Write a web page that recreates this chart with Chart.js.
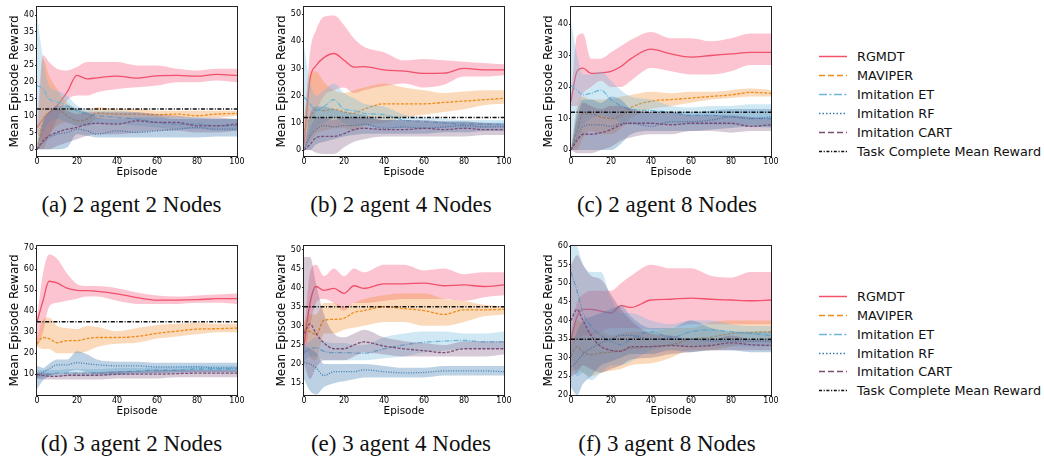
<!DOCTYPE html>
<html>
<head>
<meta charset="utf-8">
<script src="https://cdn.jsdelivr.net/npm/chart.js@4.4.1/dist/chart.umd.min.js"></script>
<style>
  html, body { margin: 0; padding: 0; background: #fff; }
  body { width: 1044px; height: 457px; position: relative; overflow: hidden; font-family: "DejaVu Sans", sans-serif; }
  canvas { position: absolute; }
  .caption { position: absolute; width: 300px; text-align: center; font-family: "Liberation Serif", "Times New Roman", serif; font-size: 23px; line-height: 23px; color: #111; white-space: nowrap; }
  .legend-item { position: absolute; height: 19px; line-height: 19px; font-size: 12.8px; color: #111; white-space: nowrap; }
  .legend-item svg { position: absolute; left: 0; top: 0; }
  .legend-item span { position: absolute; left: 38px; top: 0; }
</style>
</head>
<body>
<script>
/* global Chart */

// ---- data ----
const EPISODES = [0, 3, 6, 10, 15, 20, 25, 30, 40, 50, 60, 70, 80, 90, 100];
const X_TICKS = [0, 20, 40, 60, 80, 100];
const METHODS = ["RGMDT", "MAVIPER", "Imitation ET", "Imitation RF", "Imitation CART"];
const TARGET_LABEL = "Task Complete Mean Reward";
const CAPTIONS = ["(a) 2 agent 2 Nodes", "(b) 2 agent 4 Nodes", "(c) 2 agent 8 Nodes",
                  "(d) 3 agent 2 Nodes", "(e) 3 agent 4 Nodes", "(f) 3 agent 8 Nodes"];
const TARGETS = [12, 12, 12, 35, 35, 35];

const yTicksA = [0, 5, 10, 15, 20, 25, 30, 35, 40];
const yTicksB = [0, 10, 20, 30, 40, 50];
const yTicksC = [0, 10, 20, 30, 40];
const yTicksD = [10, 20, 30, 40, 50, 60, 70];
const yTicksE = [15, 20, 25, 30, 35, 40, 45, 50];
const yTicksF = [20, 25, 30, 35, 40, 45, 50, 55, 60];
const Y_LIMITS = [[-2, 42.4], [-2.2, 52.6], [-1.9, 45.4], [0.1, 71.1], [11.9, 50.9], [20, 60]];

// (a) 2 agent 2 nodes
const aRgmdt   = [6.5, 9, 11, 13, 17, 22, 21, 21.3, 21.8, 21.2, 21.9, 22, 21.8, 22.3, 22];
const aRgmdtLo = [5, 2, 4, 9, 14.5, 16, 16, 17, 18, 18.5, 19, 20, 20, 20.5, 20];
const aRgmdtHi = [8, 28, 26, 24, 23.5, 24.5, 26, 26, 26, 25, 25, 24, 23.5, 24, 24];
const aMav     = [0, 9, 11, 12, 10, 8.5, 9, 10.8, 10.5, 10.5, 10.3, 10.5, 10, 10.5, 10.7];
const aMavLo   = [0, 0, 4, 7, 8, 7, 7, 9, 9, 9.5, 9.5, 9.5, 9.5, 9.5, 10];
const aMavHi   = [0, 27, 22, 18, 14, 12, 11.5, 12.5, 12, 12, 11.5, 11.5, 11.5, 11.5, 11.5];
const aEt      = [19, 18, 15, 14.2, 13, 11.5, 10.5, 10, 9.5, 9, 8, 7.5, 7.5, 7, 7];
const aEtLo    = [0, 5, 8, 9, 8, 7, 7, 7.5, 7.5, 7, 6.5, 6, 6, 5.5, 5.5];
const aEtHi    = [40, 27, 19, 17.5, 16, 13, 12, 11.5, 11.5, 11, 10, 9.5, 9.5, 9, 9];
const aRf      = [0, 2, 3.5, 4.5, 5, 6, 5.5, 4.5, 5.5, 5, 5.5, 6, 6.5, 6, 6];
const aRfLo    = [0, 0, 0, 0, 0.5, 4.5, 4, 3.5, 3.5, 3.5, 3.5, 3.5, 3.5, 3.8, 3.8];
const aRfHi    = [0, 8, 11, 13, 13, 12, 11, 9.5, 9, 9.5, 9.5, 9, 9, 9, 9];
const aCart    = [0, 2.5, 4, 5, 6, 6.5, 7.5, 7.7, 7.5, 8.5, 8, 8, 7, 7, 7.5];
const aCartLo  = [0, 0, 0, 1, 2, 3, 4, 4.5, 4.5, 5, 5.5, 5.5, 5, 5, 5.5];
const aCartHi  = [0, 8, 11, 12, 11.5, 10.5, 11, 11, 11, 11, 10.5, 10, 9.5, 9.5, 9];

// (b) 2 agent 4 nodes
const bRgmdt   = [2, 26, 31, 34, 35.5, 33, 30.5, 30.7, 29.5, 29, 28.2, 28.3, 30, 29.5, 29.5];
const bRgmdtLo = [0, 8, 14, 20, 22, 23, 21, 22, 23.5, 24.5, 23, 24, 27, 27, 27.5];
const bRgmdtHi = [8, 36, 44, 49, 49.5, 46, 41, 38, 36, 33, 33.5, 33, 32.5, 32, 31.5];
const bMav     = [7, 12, 15, 14.5, 15, 14, 13.5, 15, 17, 17, 17, 17.5, 18, 18.5, 19];
const bMavLo   = [0, 3, 6, 7, 8, 8, 7, 9, 10, 12, 13, 14, 15, 16.5, 17];
const bMavHi   = [12, 28, 29, 25, 22, 21, 22, 23, 24.5, 23, 22, 21, 21.5, 22, 22];
const bEt      = [19.5, 17, 14.5, 16, 18.5, 15, 14.5, 13.5, 13, 11, 10.5, 10, 9.5, 9.5, 9.5];
const bEtLo    = [0, 5, 8, 10, 12, 10, 9, 9, 8, 8, 8, 8, 8, 8, 8.5];
const bEtHi    = [38, 25, 20, 22, 24.5, 21, 19, 17, 16, 13, 12, 11.5, 11, 11, 11];
const bRf      = [0, 5, 7.5, 9, 8.5, 9, 9, 9.5, 8, 8.5, 8, 8.5, 9, 8.5, 8.5];
const bRfLo    = [0, 0, 2, 3, 4, 5, 5.5, 6, 6, 6, 6, 6.5, 6.5, 7, 7];
const bRfHi    = [0, 13, 16, 16, 15, 14, 13.5, 13, 11, 11, 10.5, 10.5, 10.5, 10, 10];
const bCart    = [0, 2, 4.5, 5, 5, 6, 7.5, 8, 7.5, 7.5, 8, 7.5, 8, 7.5, 7.5];
const bCartLo  = [0, 0, -1, -1.5, -1.5, 1, 3, 4, 5, 5, 5, 5, 5, 5.5, 5.5];
const bCartHi  = [0, 8, 12, 12, 11, 12, 12, 12, 11, 11, 11, 10.5, 10.5, 10, 9.5];

// (c) 2 agent 8 nodes
const cRgmdt   = [15.5, 25, 26, 24.3, 24.5, 25, 26.5, 29, 32, 30.5, 29.5, 30, 30.5, 31, 31];
const cRgmdtLo = [14, 14, 18, 20, 22, 20, 20, 22, 26, 25, 24, 24, 25, 27, 27];
const cRgmdtHi = [17, 36, 37, 29, 29, 31, 33, 35, 37.5, 35.5, 35.5, 34.5, 35.5, 37, 37];
const cMav     = [0, 6, 11.5, 11.5, 10.5, 10, 11, 13.5, 15.5, 16, 16.5, 17, 17.5, 18.3, 18];
const cMavLo   = [0, 0, 4, 6, 5, 5, 7, 10, 13, 14, 15, 16, 16.5, 17, 17];
const cMavHi   = [0, 14, 17, 16, 16, 16, 17, 17.5, 18.5, 18, 18.5, 18.5, 19, 19.5, 19];
const cEt      = [20.5, 19, 17.5, 18, 19, 16, 14, 13, 12.5, 12, 11, 11, 10.5, 10, 10];
const cEtLo    = [0, 5, 8, 10, 11, 10, 9, 8, 8, 8, 8, 8, 8, 7.5, 7];
const cEtHi    = [41, 30, 24, 24, 25, 22, 19, 17, 16, 14, 13.5, 14, 14, 14.5, 14.5];
const cRf      = [0, 4, 7.5, 8, 8, 7.5, 8.5, 8.5, 7.5, 9, 9, 9.5, 10.5, 10, 10.5];
const cRfLo    = [0, 0, 0, 0, 0, 0, 2, 5, 6, 6, 6, 6.5, 7, 7.5, 7.5];
const cRfHi    = [0, 12, 16, 16, 15, 17, 16, 13, 12, 12, 12, 12.5, 13, 13, 13];
const cCart    = [0, 3, 5, 5, 5.5, 6.5, 8, 8.5, 8.5, 8, 8.5, 8.5, 8.5, 7.5, 8];
const cCartLo  = [0, -1, -1, -1, 0, 1, 3, 4, 5, 5, 6, 6, 5.5, 6, 6];
const cCartHi  = [0, 10, 15, 14, 13, 14, 14, 13, 12, 12, 11, 11, 11, 10.5, 10];

// (d) 3 agent 2 nodes
const dRgmdt   = [35, 45, 54.3, 53.5, 51, 50, 49.8, 49.5, 48.3, 46.5, 45.3, 45.3, 45.5, 46, 46];
const dRgmdtLo = [23, 30, 42, 44, 45, 46, 47, 47, 45, 43.5, 43.5, 43.5, 44, 44, 43.5];
const dRgmdtHi = [37, 58, 67, 65, 58, 53, 52, 52, 51, 49, 47.5, 47, 47.5, 48, 48.5];
const dMav     = [24.5, 27.5, 27, 25, 26, 26, 27, 27.5, 27.5, 28, 29.5, 30.5, 31.5, 31.7, 32];
const dMavLo   = [23, 22, 22, 20, 20, 20, 21, 23, 24.5, 25, 27, 28, 29, 30, 30];
const dMavHi   = [27, 36, 37, 33, 32, 31.5, 33, 32.5, 30.5, 32, 33.5, 34, 34.5, 34, 34];
const dEt      = [9.5, 10, 10, 10.5, 10.5, 10.5, 10.5, 10.5, 11, 11.5, 12, 12, 12.5, 12.5, 12.5];
const dEtLo    = [8, 8.5, 9, 9, 9, 9, 9, 9, 9.5, 10, 10.5, 10.5, 11, 11, 11];
const dEtHi    = [12, 12, 12, 12, 12.5, 12.5, 12.5, 12.5, 13, 13, 13.5, 13.5, 14, 14, 14];
const dRf      = [9, 11, 12.5, 14.5, 14.5, 15.5, 15, 14.5, 14, 14, 13.5, 13.5, 13.5, 13, 13];
const dRfLo    = [3, 7, 9, 10.5, 11, 12, 11, 10, 10, 10.5, 10.5, 11, 11, 11, 11];
const dRfHi    = [14, 13, 15, 17, 17, 21, 19.5, 17, 16, 16, 15.5, 15.5, 15.5, 15.5, 15.5];
const dCart    = [10, 9.5, 9, 9, 9.5, 9.5, 9.5, 9.5, 10, 10, 10, 10.3, 10.5, 10.5, 10.5];
const dCartLo  = [8, 7.5, 7.5, 7.5, 7.5, 7.5, 7.5, 7.5, 8, 8, 8, 8.5, 8.5, 8.5, 8.5];
const dCartHi  = [11, 11, 10.5, 10.5, 11, 11, 11, 11, 11.5, 11.5, 12, 12, 12, 12, 12];

// (e) 3 agent 4 nodes
const eRgmdt   = [25, 36, 40.3, 39.3, 39.8, 38.5, 40.5, 39.8, 41, 41, 41.2, 40.5, 40.7, 40.3, 40.7];
const eRgmdtLo = [22, 30, 36, 37, 36, 34, 36, 36, 36.5, 37, 37, 37, 36.5, 37.5, 38];
const eRgmdtHi = [28, 44, 46, 43, 45, 43, 45, 44, 46, 46, 44.5, 45, 43.5, 44, 44];
const eMav     = [29, 28.5, 27.7, 31.5, 31.7, 32, 33.5, 34, 35, 34.5, 34, 33, 34.2, 34.2, 34.3];
const eMavLo   = [27, 22, 21, 28, 28, 29, 29.5, 30, 31, 31, 30, 30, 31, 32.5, 33];
const eMavHi   = [31, 33, 33, 36, 36, 35, 36, 37, 38, 38.5, 38.5, 37, 36.5, 35.5, 35];
const eEt      = [23, 24, 24.3, 23.3, 23, 23, 22.9, 22.8, 24, 25, 25.7, 26, 26.2, 25.8, 25.8];
const eEtLo    = [21, 22, 22, 21, 21, 21, 21, 21, 21.5, 22, 23, 23.5, 24, 24, 24];
const eEtHi    = [25, 26, 27, 26, 25.5, 25.5, 25, 25, 27, 28, 28.5, 28.5, 28, 28, 28.5];
const eRf      = [20.5, 20, 19, 17, 18, 18, 18, 18.5, 18, 17.7, 17.8, 18.2, 18.2, 18.2, 18];
const eRfLo    = [16, 13, 12, 14, 15, 15.5, 16, 16.5, 16.5, 16.5, 16.5, 17, 17, 17, 17];
const eRfHi    = [25, 24, 23, 20, 20, 20, 20, 20, 19.5, 19, 19, 19.5, 19.5, 19.5, 19.5];
const eCart    = [28, 30.5, 28, 25.5, 24, 24, 25, 25.8, 24.7, 24, 23.5, 23, 24, 24, 24];
const eCartLo  = [20, 16, 19, 21, 21, 21, 22, 23, 22.5, 22, 22, 22, 22, 22, 22.5];
const eCartHi  = [48, 48, 41, 33, 28, 27, 28, 29, 27, 26, 25.5, 25, 26, 26, 26];

// (f) 3 agent 8 nodes
const fRgmdt   = [35, 41, 43, 43, 42.5, 42, 44, 43.5, 45.5, 45.7, 46, 45.7, 45.5, 45.3, 45.5];
const fRgmdtLo = [33, 35, 36, 36, 37, 38, 38, 38, 37.5, 38, 39, 39, 39, 39, 39];
const fRgmdtHi = [37, 45, 47, 48, 48, 48, 50, 52, 55, 54, 54, 52, 51.5, 53, 53];
const fMav     = [30.5, 33, 31.5, 30.8, 31.3, 31.5, 32, 32.5, 33, 33.5, 35, 35.5, 36.5, 36.8, 37];
const fMavLo   = [26, 27, 26, 25, 26, 26.5, 27, 28, 28.5, 30, 32, 32, 33, 34, 34];
const fMavHi   = [35, 40, 39, 37, 37, 36, 36.5, 37, 37, 38, 38, 39.5, 40, 40, 40];
const fEt      = [53, 48, 42, 38.5, 36, 34.5, 33.5, 35, 37, 35.5, 37, 37.5, 37, 36.5, 36];
const fEtLo    = [30, 25, 26, 24, 26, 28, 28, 29, 32, 33, 33, 33, 33, 33, 33];
const fEtHi    = [62, 60, 55, 53, 53, 46, 42, 42, 40, 39, 40, 40, 39, 38.5, 38.5];
const fRf      = [27.5, 29, 31, 32.5, 34, 35, 36, 36, 35, 35, 35, 34.5, 34.5, 34.5, 34.5];
const fRfLo    = [22, 20, 23, 25, 28, 29, 30, 31, 31, 32, 31.5, 32, 32, 31.5, 31.5];
const fRfHi    = [33, 37, 40, 41, 42, 43, 44, 41, 38, 38, 40, 38, 37, 37, 37];
const fCart    = [40, 43, 40, 36, 33, 32, 31.7, 33, 33, 33.3, 33, 33.3, 34, 33.5, 33.3];
const fCartLo  = [25, 26, 28, 27, 26, 27, 28, 29.5, 30, 31, 31.5, 32, 32, 32, 32];
const fCartHi  = [55, 57.5, 55, 52, 51, 47, 43, 40, 36.5, 36, 35, 35, 36, 35, 35];

// ---- styles ----
const LINE_COLORS = ["#f2506b", "#ee8c1c", "#6cb7d9", "#3a7db3", "#7b4c78"];
const BAND_COLORS = ["rgba(245,60,100,0.3)", "rgba(240,140,40,0.32)", "rgba(110,185,220,0.32)",
                     "rgba(70,130,180,0.36)", "rgba(120,80,120,0.3)"];
const LINE_DASHES = [[], [3, 1.5], [5, 1.5, 1, 1.5], [1, 1.5], [3, 1.5]];
const LEGEND_DASHES = ["", "6 3", "8 2.5 2 2.5", "1.5 2", "6 3"];

const PANELS = [
  { mean: [aRgmdt, aMav, aEt, aRf, aCart], lo: [aRgmdtLo, aMavLo, aEtLo, aRfLo, aCartLo], hi: [aRgmdtHi, aMavHi, aEtHi, aRfHi, aCartHi], yTicks: yTicksA },
  { mean: [bRgmdt, bMav, bEt, bRf, bCart], lo: [bRgmdtLo, bMavLo, bEtLo, bRfLo, bCartLo], hi: [bRgmdtHi, bMavHi, bEtHi, bRfHi, bCartHi], yTicks: yTicksB },
  { mean: [cRgmdt, cMav, cEt, cRf, cCart], lo: [cRgmdtLo, cMavLo, cEtLo, cRfLo, cCartLo], hi: [cRgmdtHi, cMavHi, cEtHi, cRfHi, cCartHi], yTicks: yTicksC },
  { mean: [dRgmdt, dMav, dEt, dRf, dCart], lo: [dRgmdtLo, dMavLo, dEtLo, dRfLo, dCartLo], hi: [dRgmdtHi, dMavHi, dEtHi, dRfHi, dCartHi], yTicks: yTicksD },
  { mean: [eRgmdt, eMav, eEt, eRf, eCart], lo: [eRgmdtLo, eMavLo, eEtLo, eRfLo, eCartLo], hi: [eRgmdtHi, eMavHi, eEtHi, eRfHi, eCartHi], yTicks: yTicksE },
  { mean: [fRgmdt, fMav, fEt, fRf, fCart], lo: [fRgmdtLo, fMavLo, fEtLo, fRfLo, fCartLo], hi: [fRgmdtHi, fMavHi, fEtHi, fRfHi, fCartHi], yTicks: yTicksF }
];

// ---- layout ----
const PLOT_LEFT = [37, 304, 571];
const PLOT_TOP = [7, 246];
const PLOT_W = 200;
const PLOT_H = 149;
const Y_AXIS_W = 28;
const X_AXIS_H = 21;
const PAD_TOP = 6;
const PAD_RIGHT = 12;
const CAPTION_X = [131.5, 401, 667];
const CAPTION_TOP = [193, 432];
const LEGEND_LEFT = 819;
const LEGEND_FIRST = [56.7, 296.5];
const LEGEND_STEP = 18.86;

const framePlugin = {
  id: "frame",
  afterDraw(chart) {
    const { ctx, chartArea: a } = chart;
    ctx.save();
    ctx.strokeStyle = "#222";
    ctx.lineWidth = 1;
    ctx.strokeRect(a.left - 0.5, a.top - 0.5, a.right - a.left + 1, a.bottom - a.top + 1);
    ctx.restore();
  }
};

function pts(arr) {
  return EPISODES.map((x, i) => ({ x, y: arr[i] }));
}

function buildPanel(idx) {
  const p = PANELS[idx];
  const col = idx % 3;
  const row = Math.floor(idx / 3);
  const canvas = document.createElement("canvas");
  const w = Y_AXIS_W + PLOT_W + PAD_RIGHT;
  const h = PAD_TOP + PLOT_H + X_AXIS_H;
  canvas.width = w;
  canvas.height = h;
  canvas.style.width = w + "px";
  canvas.style.height = h + "px";
  canvas.style.left = (PLOT_LEFT[col] - Y_AXIS_W) + "px";
  canvas.style.top = (PLOT_TOP[row] - PAD_TOP) + "px";
  document.body.appendChild(canvas);

  // first dataset is drawn last, so the target line goes first and RGMDT last
  const datasets = [{
    label: TARGET_LABEL,
    data: [{ x: 0, y: TARGETS[idx] }, { x: 100, y: TARGETS[idx] }],
    borderColor: "#111",
    borderWidth: 1.5,
    borderDash: [4, 1.6, 1, 1.6],
    pointRadius: 0,
    fill: false
  }];
  for (let m = METHODS.length - 1; m >= 0; m--) {
    datasets.push({
      label: METHODS[m],
      data: pts(p.mean[m]),
      borderColor: LINE_COLORS[m],
      borderWidth: 1.3,
      borderDash: LINE_DASHES[m],
      pointRadius: 0,
      fill: false,
      cubicInterpolationMode: "monotone"
    });
    datasets.push({
      label: METHODS[m] + " upper",
      data: pts(p.hi[m]),
      borderColor: "rgba(0,0,0,0)",
      borderWidth: 0,
      backgroundColor: BAND_COLORS[m],
      pointRadius: 0,
      fill: "+1",
      cubicInterpolationMode: "monotone"
    });
    datasets.push({
      label: METHODS[m] + " lower",
      data: pts(p.lo[m]),
      borderColor: "rgba(0,0,0,0)",
      borderWidth: 0,
      pointRadius: 0,
      fill: false,
      cubicInterpolationMode: "monotone"
    });
  }

  const tickFont = { family: "DejaVu Sans", size: 8, lineHeight: 1 };

  return new Chart(canvas, {
    type: "line",
    data: { datasets },
    plugins: [framePlugin],
    options: {
      responsive: false,
      animation: false,
      devicePixelRatio: 1,
      layout: { padding: { top: PAD_TOP, right: PAD_RIGHT, left: 0, bottom: 0 } },
      plugins: { legend: { display: false }, tooltip: { enabled: false } },
      scales: {
        x: {
          type: "linear",
          min: 0,
          max: 100,
          afterBuildTicks: s => { s.ticks = X_TICKS.map(v => ({ value: v })); },
          afterFit: s => { s.height = X_AXIS_H; s.paddingLeft = 0; s.paddingRight = 0; },
          grid: { display: true, drawOnChartArea: false, drawTicks: true, tickLength: 2, color: "#222" },
          border: { display: false },
          ticks: { font: tickFont, color: "#000", padding: 0, maxRotation: 0, autoSkip: false },
          title: { display: true, text: "Episode", color: "#000", padding: 0,
                   font: { family: "DejaVu Sans", size: 10.4, lineHeight: 1 } }
        },
        y: {
          type: "linear",
          min: Y_LIMITS[idx][0],
          max: Y_LIMITS[idx][1],
          afterBuildTicks: s => { s.ticks = p.yTicks.map(v => ({ value: v })); },
          afterFit: s => { s.width = Y_AXIS_W; s.paddingTop = 0; s.paddingBottom = 0; },
          grid: { display: true, drawOnChartArea: false, drawTicks: true, tickLength: 2, color: "#222" },
          border: { display: false },
          ticks: { font: tickFont, color: "#000", padding: 1, autoSkip: false },
          title: { display: true, text: "Mean Episode Reward", color: "#000", padding: 0,
                   font: { family: "DejaVu Sans", size: 12, lineHeight: 1 } }
        }
      }
    }
  });
}

function addCaption(idx) {
  const div = document.createElement("div");
  div.className = "caption";
  div.textContent = CAPTIONS[idx];
  div.style.left = (CAPTION_X[idx % 3] - 150) + "px";
  div.style.top = CAPTION_TOP[Math.floor(idx / 3)] + "px";
  document.body.appendChild(div);
}

function addLegend(row) {
  const labels = METHODS.concat([TARGET_LABEL]);
  const colors = LINE_COLORS.concat(["#111"]);
  const dashes = LEGEND_DASHES.concat(["3 1.6 1.2 1.6"]);
  labels.forEach((label, i) => {
    const item = document.createElement("div");
    item.className = "legend-item";
    item.style.left = LEGEND_LEFT + "px";
    item.style.top = (LEGEND_FIRST[row] + i * LEGEND_STEP - 9.5) + "px";
    const dash = dashes[i] ? ` stroke-dasharray="${dashes[i]}"` : "";
    item.innerHTML = `<svg width="30" height="19"><line x1="0" y1="9.5" x2="28" y2="9.5" stroke="${colors[i]}" stroke-width="1.5"${dash}/></svg><span></span>`;
    item.querySelector("span").textContent = label;
    document.body.appendChild(item);
  });
}

function main() {
  for (let i = 0; i < PANELS.length; i++) {
    buildPanel(i);
    addCaption(i);
  }
  addLegend(0);
  addLegend(1);
}

main();
</script>
</body>
</html>
